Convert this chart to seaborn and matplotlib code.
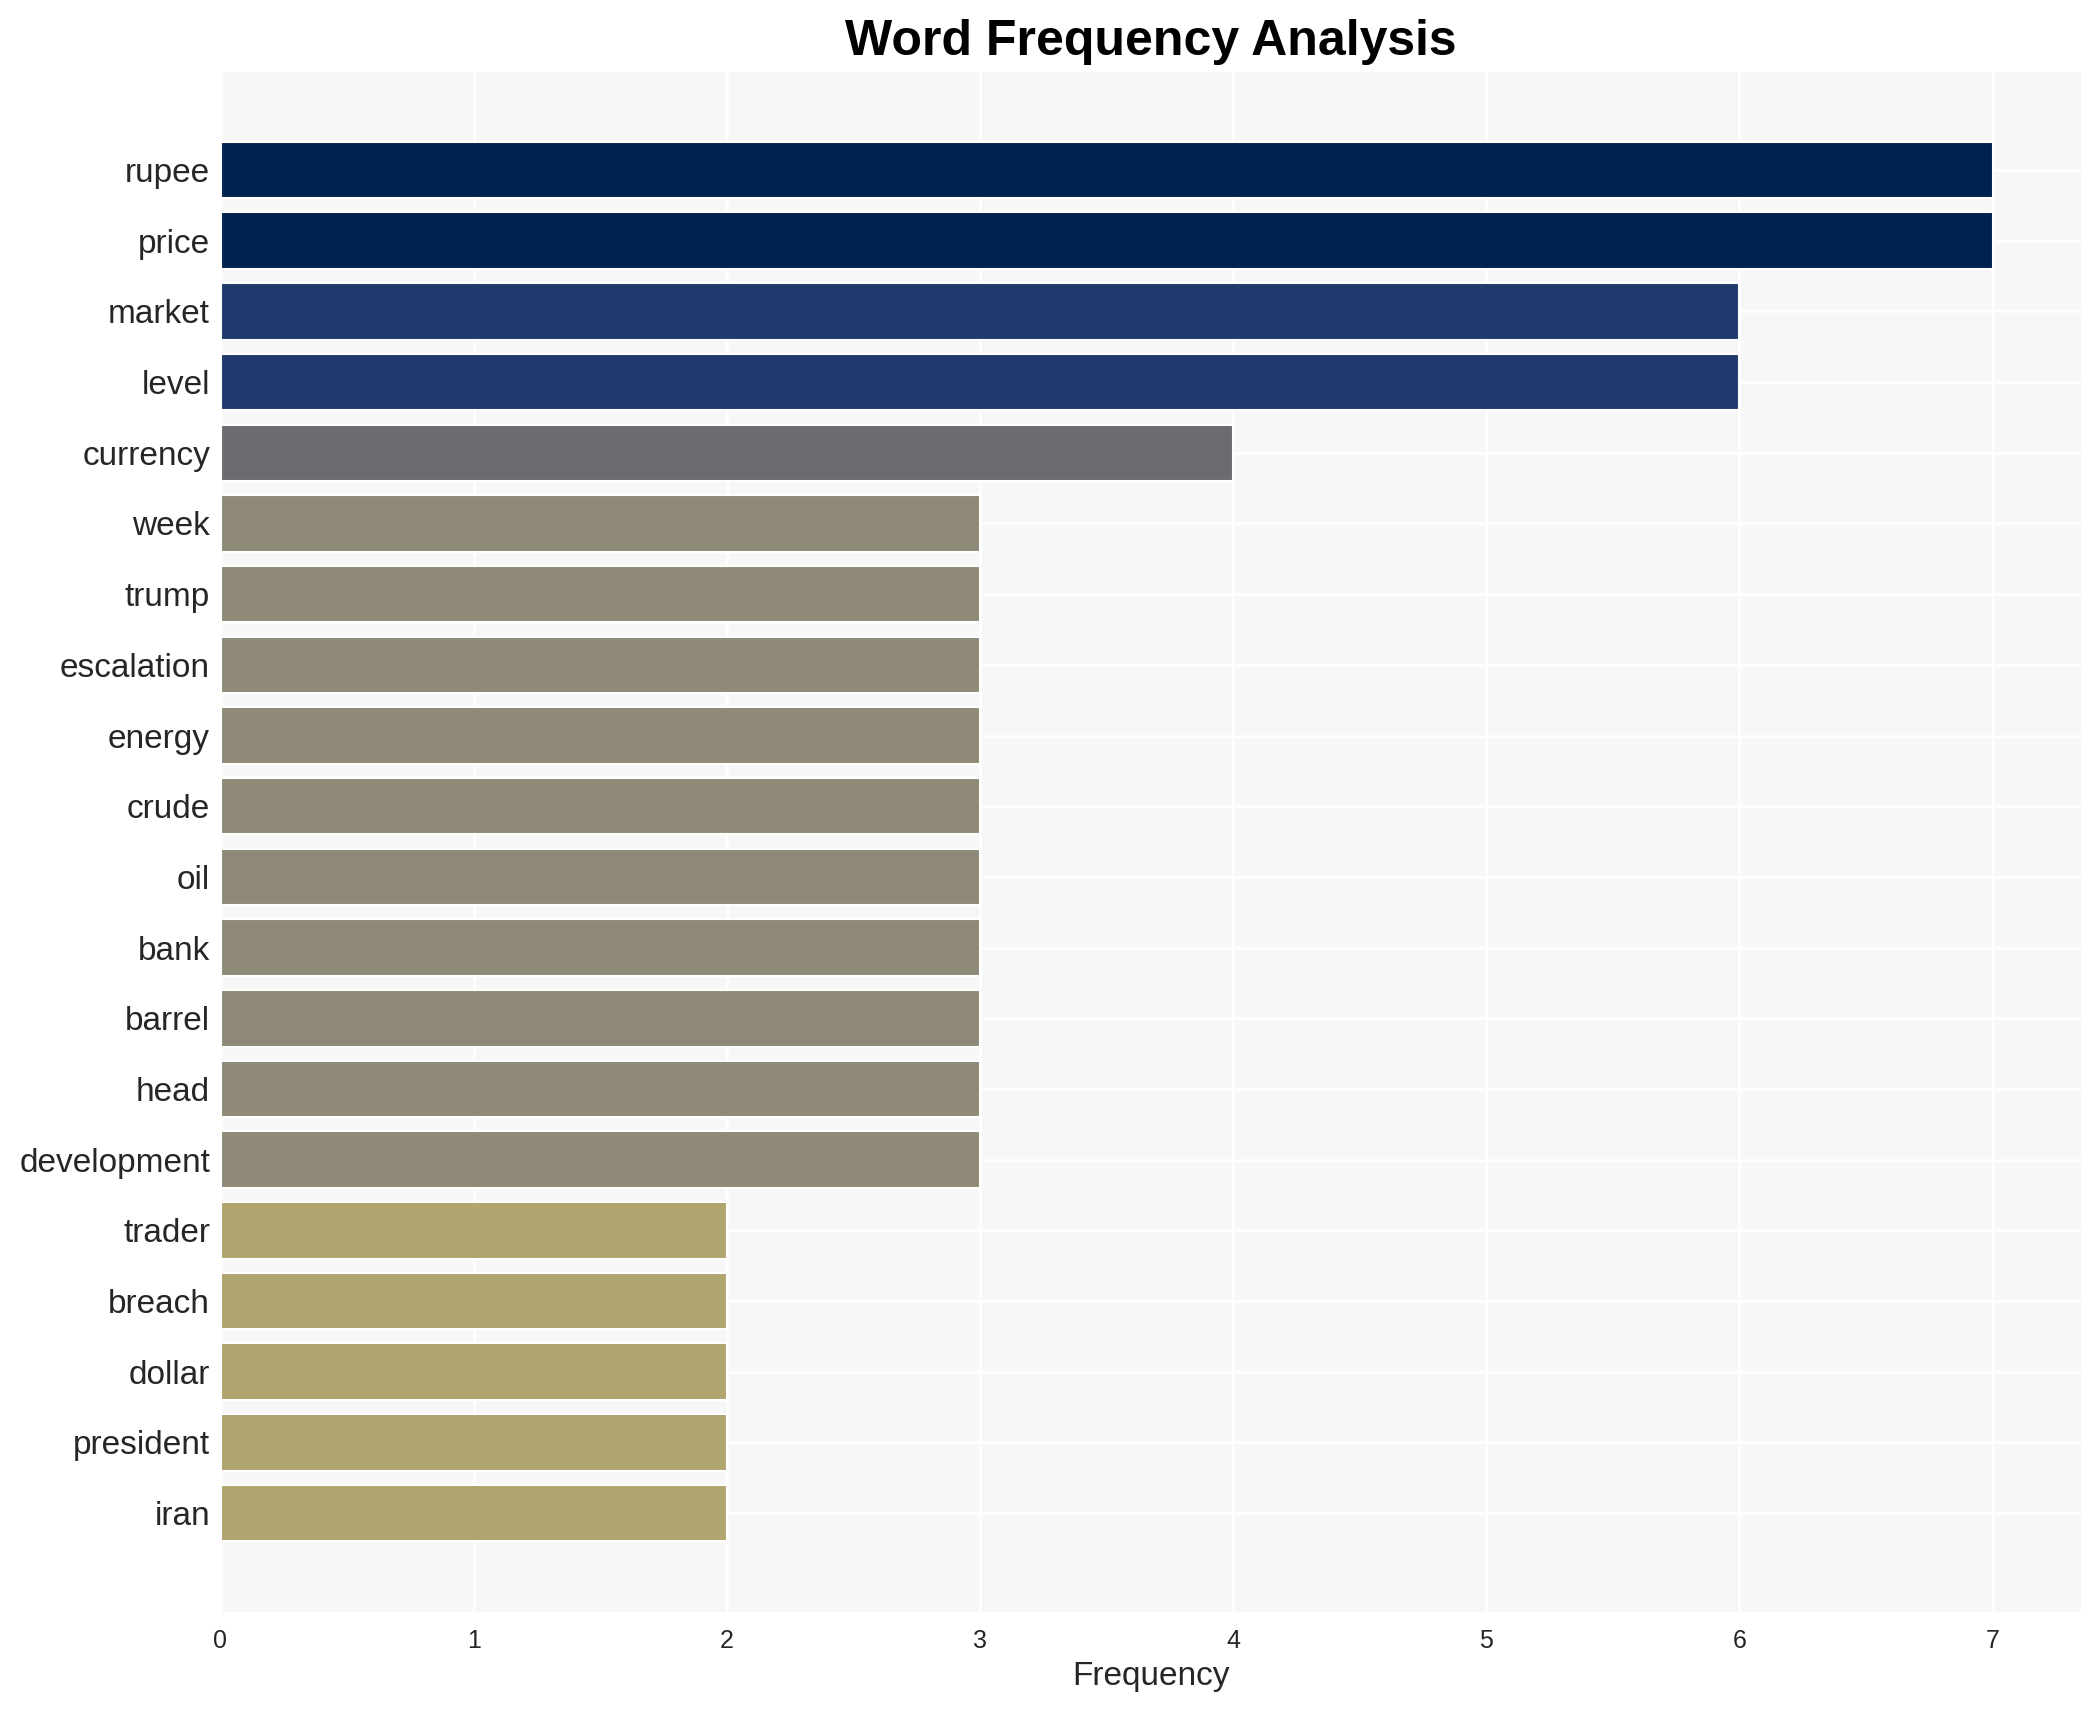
import matplotlib
matplotlib.use("Agg")
import matplotlib.pyplot as plt
import pandas as pd
import seaborn as sns

words = [
    "rupee", "price", "market", "level", "currency", "week", "trump",
    "escalation", "energy", "crude", "oil", "bank", "barrel", "head",
    "development", "trader", "breach", "dollar", "president", "iran",
]
counts = [7, 7, 6, 6, 4, 3, 3, 3, 3, 3, 3, 3, 3, 3, 3, 2, 2, 2, 2, 2]

# colour per frequency value (cividis-like ramp)
value_colors = {
    7: "#00224e",
    6: "#213a6d",
    4: "#6b6c71",
    3: "#8f8a78",
    2: "#b0a56e",
}

df = pd.DataFrame({"word": words, "count": counts})

sns.set_theme(style="whitegrid")
plt.rcParams["font.family"] = ["Liberation Sans", "DejaVu Sans"]

fig, ax = plt.subplots(figsize=(14, 11.4), dpi=150)
fig.subplots_adjust(left=0.105, right=0.991, top=0.958, bottom=0.0573)

ax.set_facecolor("#f7f7f7")
sns.barplot(
    data=df, y="word", x="count", hue="count", palette=value_colors,
    order=words, orient="h", width=0.8, dodge=False, legend=False,
    saturation=1, ax=ax,
)

ax.set_xlim(0, 7.35)
ax.set_ylim(len(words) - 1 + 1.40, -1.39)
ax.grid(True, axis="both", color="white", linewidth=1.2)
ax.set_axisbelow(True)
for s in ax.spines.values():
    s.set_visible(False)

ax.set_title("Word Frequency Analysis", fontsize=24, fontweight="bold",
             color="black", pad=8)
ax.set_xlabel("Frequency", fontsize=16)
ax.set_ylabel("")
ax.tick_params(axis="y", labelsize=16, length=0, pad=5)
ax.tick_params(axis="x", labelsize=12, length=0, pad=8)

fig.savefig("out.png", dpi=150)
